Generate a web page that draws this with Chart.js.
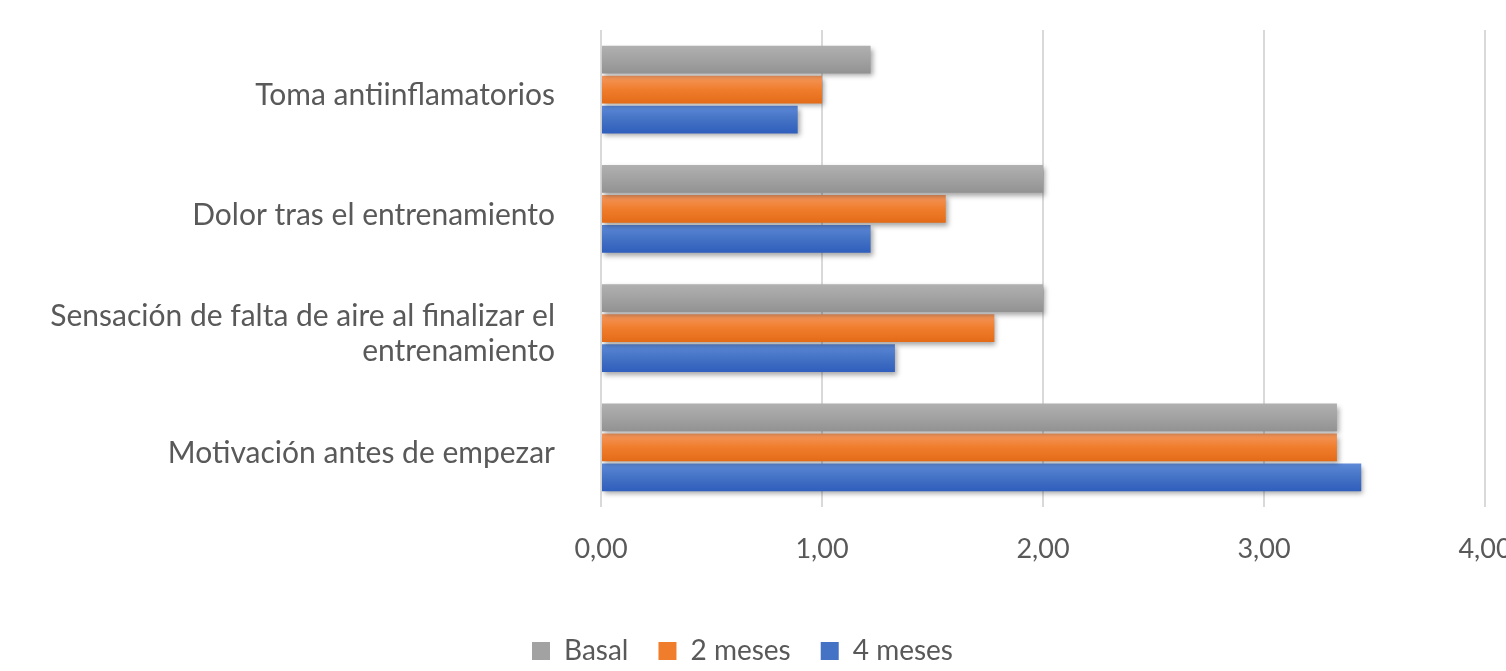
<!DOCTYPE html>
<html lang="es">
<head>
<meta charset="utf-8">
<title>Evolución de síntomas</title>
<script src="https://cdn.jsdelivr.net/npm/chart.js@4/dist/chart.umd.min.js"></script>
<style>
    html, body { margin: 0; padding: 0; background: #fff; }
</style>
</head>
<body>
<canvas id="grafico" width="1506" height="671"></canvas>
<script>
// datos
const categorias = [
    'Toma antiinflamatorios',
    'Dolor tras el entrenamiento',
    ['Sensación de falta de aire al finalizar el', 'entrenamiento'],
    'Motivación antes de empezar'
];
const series = ['Basal', '2 meses', '4 meses'];
const basal = [1.22, 2.00, 2.00, 3.33];
const dosMeses = [1.00, 1.56, 1.78, 3.33];
const cuatroMeses = [0.89, 1.22, 1.33, 3.44];
const etiquetasX = ['0,00', '1,00', '2,00', '3,00', '4,00'];

const grises = ['#b0b0b0', '#a2a2a2', '#929292'];
const naranjas = ['#f4985f', '#f07d2c', '#e36b18'];
const azules = ['#5d89d8', '#4472c4', '#2f5ebd'];
const colorTexto = '#595959';
const fuente = 'Lato, "Open Sans", sans-serif';

// degradado vertical dentro de cada barra, como en Excel
function degradado(colores) {
    return (context) => {
        const barra = context.element;
        if (!barra || !isFinite(barra.y) || !barra.height) return colores[1];
        const g = context.chart.ctx.createLinearGradient(0, barra.y - barra.height / 2, 0, barra.y + barra.height / 2);
        g.addColorStop(0, colores[0]);
        g.addColorStop(0.5, colores[1]);
        g.addColorStop(1, colores[2]);
        return g;
    };
}

const sombra = {
    id: 'sombra',
    beforeDatasetsDraw(chart) {
        const ctx = chart.ctx;
        ctx.save();
        ctx.shadowColor = 'rgba(0, 0, 0, 0.35)';
        ctx.shadowBlur = 5;
        ctx.shadowOffsetX = 2;
        ctx.shadowOffsetY = 3;
    },
    afterDatasetsDraw(chart) {
        chart.ctx.restore();
    }
};

const bajarLeyenda = {
    id: 'bajarLeyenda',
    afterLayout(chart) {
        chart.legend.top += 4;
        chart.legend.bottom += 4;
    }
};

const coloresLeyenda = [grises, naranjas, azules];

const ctx = document.getElementById('grafico').getContext('2d');
const grafico = new Chart(ctx, {
    type: 'bar',
    data: {
        labels: categorias,
        datasets: [
            { label: series[0], data: basal, backgroundColor: degradado(grises) },
            { label: series[1], data: dosMeses, backgroundColor: degradado(naranjas) },
            { label: series[2], data: cuatroMeses, backgroundColor: degradado(azules) }
        ]
    },
    options: {
        indexAxis: 'y',
        responsive: false,
        animation: false,
        events: [],
        categoryPercentage: 0.755,
        barPercentage: 0.92,
        layout: { padding: { top: 30, right: 21, bottom: 0, left: 0 } },
        scales: {
            x: {
                min: 0,
                max: 4,
                ticks: {
                    stepSize: 1,
                    padding: 26,
                    color: colorTexto,
                    font: { family: fuente, size: 27 },
                    maxRotation: 0,
                    callback: (valor, i) => etiquetasX[i]
                },
                grid: { color: '#d9d9d9', lineWidth: 2, drawTicks: false },
                border: { display: false },
                afterFit: (escala) => {
                    escala.height = 96;
                    escala.paddingRight = 0;
                }
            },
            y: {
                ticks: {
                    padding: 46,
                    labelOffset: 6,
                    color: colorTexto,
                    font: { family: fuente, size: 30, lineHeight: 1.17 }
                },
                grid: { display: false, drawTicks: false },
                border: { display: false },
                afterFit: (escala) => {
                    escala.width = 601;
                    escala.paddingTop = 0;
                    escala.paddingBottom = 0;
                }
            }
        },
        plugins: {
            legend: {
                position: 'bottom',
                labels: {
                    boxWidth: 18,
                    boxHeight: 18,
                    padding: 30,
                    color: colorTexto,
                    font: { family: fuente, size: 28 },
                    generateLabels: (chart) => chart.data.datasets.map((ds, i) => ({
                        text: ds.label,
                        fillStyle: coloresLeyenda[i][1],
                        strokeStyle: coloresLeyenda[i][1],
                        lineWidth: 0,
                        hidden: false,
                        datasetIndex: i,
                        fontColor: colorTexto
                    }))
                }
            },
            tooltip: { enabled: false }
        }
    },
    plugins: [sombra, bajarLeyenda]
});

// segunda pasada para que el degradado conozca la posición de cada barra
grafico.update('none');
</script>
</body>
</html>
